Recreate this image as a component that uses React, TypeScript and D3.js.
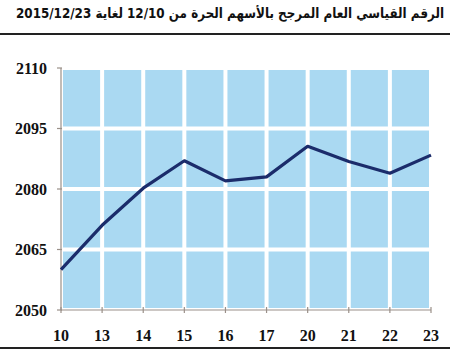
import React from "react";
import * as d3 from "d3";

const title = "الرقم القياسي العام المرجح بالأسهم الحرة من 12/10 لغاية 2015/12/23";
const days = ["10", "13", "14", "15", "16", "17", "20", "21", "22", "23"];
const values = [2060, 2071, 2080.2, 2087, 2082, 2083, 2090.6, 2086.8, 2083.9, 2088.4];
const yTicks = [2050, 2065, 2080, 2095, 2110];

export default function App() {
  const W = 450, H = 350;
  const left = 61, right = 431, top = 68, bottom = 310;
  const x = d3.scalePoint<string>().domain(days).range([left, right]);
  const y = d3.scaleLinear().domain([2050, 2110]).range([bottom, top]);
  const line = d3
    .line<number>()
    .x((_, i) => x(days[i]) as number)
    .y((d) => y(d));
  const axisColor = "#9a9089";
  return (
    <svg
      width={W}
      height={H}
      style={{ position: "absolute", left: 0, top: 0, background: "#fff" }}
    >
      <text
        x={16}
        y={18}
        textAnchor="start"
        textLength={428}
        lengthAdjust="spacingAndGlyphs"
        fontFamily="'DejaVu Sans', sans-serif"
        fontWeight="bold"
        fontSize={12.6}
        fill="#111"
        transform="translate(16 18) scale(1 1.1) translate(-16 -18)"
      >
        {title}
      </text>
      <line x1={0} x2={W} y1={34} y2={34} stroke="#222" strokeWidth={2} />
      <rect x={left} y={top} width={right - left} height={bottom - top} fill="#aad9f2" />
      {days.map((d) => (
        <line key={"gx" + d} x1={x(d)} x2={x(d)} y1={top} y2={bottom} stroke="#fff" strokeWidth={4} />
      ))}
      {yTicks.map((t) => (
        <line key={"gy" + t} x1={left} x2={right} y1={y(t)} y2={y(t)} stroke="#fff" strokeWidth={4} />
      ))}
      <line x1={left} x2={left} y1={top} y2={bottom} stroke={axisColor} strokeWidth={1.2} />
      {yTicks.map((t) => (
        <g key={"ty" + t}>
          <line x1={left - 4} x2={left + 1} y1={y(t)} y2={y(t)} stroke={axisColor} strokeWidth={1.2} />
          <text
            x={47}
            y={y(t)}
            dy="0.35em"
            textAnchor="end"
            fontFamily="'Liberation Serif', serif"
            fontWeight="bold"
            fontSize={16}
            fill="#111"
          >
            {t}
          </text>
        </g>
      ))}
      <line x1={left} x2={right} y1={bottom} y2={bottom} stroke={axisColor} strokeWidth={1.2} />
      {days.map((d) => (
        <g key={"tx" + d}>
          <line x1={x(d)} x2={x(d)} y1={bottom - 3} y2={bottom + 3} stroke={axisColor} strokeWidth={1.2} />
          <text
            x={x(d)}
            y={335}
            dy="0.35em"
            textAnchor="middle"
            fontFamily="'Liberation Serif', serif"
            fontWeight="bold"
            fontSize={16}
            fill="#111"
          >
            {d}
          </text>
        </g>
      ))}
      <path d={line(values) ?? ""} fill="none" stroke="#1b2c6b" strokeWidth={3.2} strokeLinejoin="round" />
      <line x1={0} x2={W} y1={348} y2={348} stroke="#222" strokeWidth={2} />
    </svg>
  );
}
